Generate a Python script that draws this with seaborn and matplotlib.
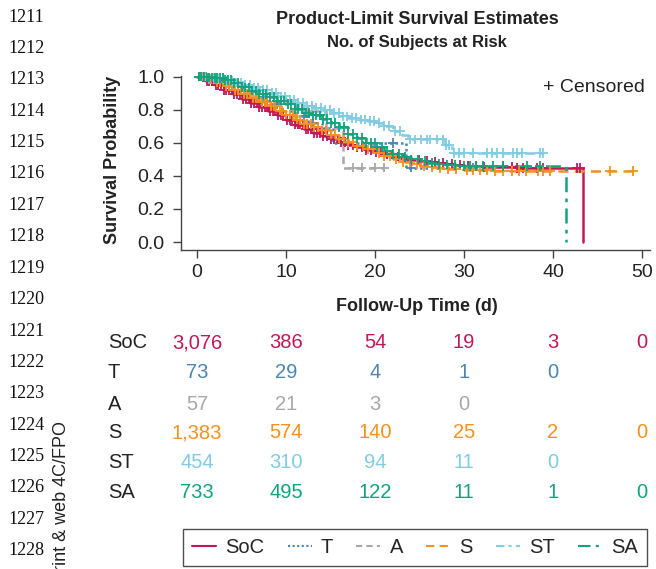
import numpy as np
import pandas as pd
import matplotlib
matplotlib.use("Agg")
import matplotlib.pyplot as plt
import matplotlib.transforms as mtransforms
from matplotlib.lines import Line2D
import seaborn as sns

# --- data ---
groups = ["SoC", "T", "A", "S", "ST", "SA"]
colors = {"SoC": "#C2185A", "T": "#4A86B3", "A": "#A8A8A8",
          "S": "#F7901E", "ST": "#80CCE2", "SA": "#12A37E"}
dash_map = {"SoC": "", "T": (1, 1.2), "A": (3, 2), "S": (4, 2.5),
            "ST": (4, 2, 1.5, 2), "SA": (6, 2.5, 1.5, 2.5)}

soc_t = [0, 1, 2, 3, 4, 5, 6, 7, 8, 9, 10, 11, 12, 13, 14, 15, 16, 17, 18, 19, 20,
         21, 22, 23, 24, 25, 26, 27, 28, 29, 30, 32, 36, 43.4]
soc_s = [1.0, 0.975, 0.948, 0.92, 0.893, 0.866, 0.84, 0.815, 0.79, 0.765, 0.738,
         0.71, 0.685, 0.66, 0.64, 0.62, 0.603, 0.588, 0.573, 0.558, 0.543, 0.53,
         0.517, 0.505, 0.497, 0.49, 0.483, 0.477, 0.472, 0.467, 0.462, 0.455, 0.447, 0.0]
soc_c = [0.2, 0.5, 0.8, 1.1, 1.4, 1.7, 2.1, 2.4, 2.7, 3.0, 3.3, 3.6, 3.9, 4.2, 4.5,
         4.8, 5.2, 5.5, 5.8, 6.1, 6.4, 6.7, 7.0, 7.3, 7.6, 7.9, 8.2, 8.5, 8.8, 9.1,
         9.4, 9.7, 10.1, 10.4, 10.7, 11.0, 11.3, 11.6, 11.9, 12.2, 12.5, 12.8, 13.2,
         13.5, 13.8, 14.2, 14.6, 15.0, 15.4, 15.8, 16.2, 16.6, 17.0, 17.5, 18.0,
         18.5, 19.0, 19.5, 20.1, 20.7, 21.3, 21.9, 22.6, 23.3, 24.1, 24.9, 25.8,
         26.7, 27.6, 28.6, 29.6, 30.5, 31.3, 32.2, 34.4, 35.4, 36.0, 36.6, 38.2,
         38.9, 42.7, 43.0]

t_t = [0, 2, 3.5, 5, 6.5, 8, 9.5, 11, 12.5, 14, 15.3, 23.5, 31]
t_s = [1.0, 0.97, 0.945, 0.915, 0.875, 0.835, 0.79, 0.76, 0.72, 0.69, 0.60, 0.45, 0.45]
t_c = [1.0, 4.2, 7.4, 9.0, 12.0, 13.0, 17.0, 20.0, 22.0, 24.0, 31.0]

a_t = [0, 1, 2.5, 3.5, 5, 6.5, 7.8, 11.3, 14.5, 16.4, 21]
a_s = [1.0, 0.982, 0.965, 0.947, 0.91, 0.875, 0.85, 0.795, 0.69, 0.45, 0.45]
a_c = [2.0, 4.0, 9.0, 10.0, 12.5, 17.5, 18.5, 20.0, 21.0]

s_t = [0, 1, 2, 3, 4, 5, 6, 7, 8, 9, 10, 11, 12, 13, 14, 15, 16, 17, 18, 19, 20,
       21, 22, 23, 24, 25, 26, 27, 28, 30, 33, 49.2]
s_s = [1.0, 0.985, 0.965, 0.945, 0.92, 0.895, 0.87, 0.845, 0.82, 0.795, 0.77,
       0.74, 0.715, 0.695, 0.675, 0.65, 0.625, 0.603, 0.58, 0.56, 0.54, 0.52, 0.50,
       0.485, 0.47, 0.46, 0.452, 0.447, 0.443, 0.437, 0.43, 0.43]
s_c = [0.3, 0.6, 0.9, 1.3, 1.6, 1.9, 2.3, 2.6, 2.9, 3.3, 3.6, 3.9, 4.3, 4.6, 4.9,
       5.3, 5.6, 5.9, 6.3, 6.6, 6.9, 7.3, 7.6, 7.9, 8.3, 8.6, 8.9, 9.3, 9.6, 10.0,
       10.4, 10.8, 11.2, 11.6, 12.0, 12.4, 12.8, 13.2, 13.6, 14.0, 14.5, 15.0,
       15.5, 16.0, 16.5, 17.0, 17.5, 18.0, 18.6, 19.2, 19.8, 20.4, 21.0, 21.7,
       22.4, 23.1, 23.9, 24.7, 25.5, 26.4, 27.3, 28.2, 29.1, 30.3, 31.0, 31.8,
       32.6, 33.5, 34.4, 35.4, 36.2, 37.0, 38.3, 38.9, 39.7, 46.4, 49.0]

st_t = [0, 1, 2, 3, 4, 5, 6, 7, 8, 9, 10, 11, 12, 13, 14, 15, 16, 17, 18, 19, 20,
        21, 22, 23, 23.7, 27.9, 28.7, 38.9]
st_s = [1.0, 0.993, 0.985, 0.975, 0.965, 0.95, 0.935, 0.92, 0.9, 0.88, 0.86, 0.84,
        0.825, 0.812, 0.8, 0.78, 0.76, 0.75, 0.74, 0.73, 0.72, 0.70, 0.67, 0.645,
        0.62, 0.585, 0.54, 0.54]
st_c = [0.4, 0.9, 1.4, 1.9, 2.4, 2.9, 3.4, 3.9, 4.4, 4.9, 5.4, 5.9, 6.4, 6.9, 7.4,
        7.9, 8.4, 8.9, 9.4, 9.9, 10.4, 10.9, 11.4, 11.9, 12.4, 12.9, 13.4, 13.9,
        14.4, 14.9, 15.4, 15.9, 16.4, 16.9, 17.4, 17.9, 18.4, 18.9, 19.4, 19.9,
        20.4, 21.0, 21.6, 22.2, 22.8, 23.9, 24.5, 25.2, 25.8, 26.2, 27.0, 27.6,
        28.0, 28.3, 28.9, 29.4, 30.0, 31.0, 32.6, 33.1, 33.7, 34.4, 35.5, 36.0,
        36.5, 38.5, 38.9]

sa_t = [0, 1, 2, 3, 4, 5, 6, 7, 8, 9, 10, 11, 12, 13, 14, 15, 16, 17, 18, 19, 20,
        21, 22, 23, 24, 25, 26, 27, 28, 29, 30, 41.5]
sa_s = [1.0, 0.995, 0.99, 0.98, 0.96, 0.935, 0.915, 0.895, 0.875, 0.855, 0.835,
        0.805, 0.78, 0.765, 0.745, 0.72, 0.695, 0.655, 0.63, 0.60, 0.575, 0.553,
        0.533, 0.515, 0.50, 0.49, 0.48, 0.473, 0.468, 0.464, 0.46, 0.0]
sa_c = [0.2, 0.5, 0.8, 1.1, 1.4, 1.7, 2.0, 2.3, 2.6, 2.9, 3.2, 3.5, 3.8, 4.2, 4.6,
        5.0, 5.4, 5.8, 6.2, 6.6, 7.0, 7.4, 7.8, 8.2, 8.6, 9.0, 9.4, 9.8, 10.2,
        10.6, 11.0, 11.4, 11.8, 12.2, 12.6, 13.0, 13.4, 13.8, 14.2, 14.6, 15.0,
        15.5, 16.0, 16.5, 17.0, 17.5, 18.0, 18.5, 19.0, 19.6, 20.2, 20.8, 21.4,
        22.0, 22.7, 23.4, 24.1, 24.8, 25.6, 26.4, 27.2, 28.1, 29.0, 30.0, 30.7,
        31.3, 32.1, 33.3, 34.4, 37.1, 38.5]

times = {"SoC": soc_t, "T": t_t, "A": a_t, "S": s_t, "ST": st_t, "SA": sa_t}
survs = {"SoC": soc_s, "T": t_s, "A": a_s, "S": s_s, "ST": st_s, "SA": sa_s}
censor = {"SoC": soc_c, "T": t_c, "A": a_c, "S": s_c, "ST": st_c, "SA": sa_c}

risk_days = [0, 10, 20, 30, 40, 50]
at_risk = {
    "SoC": ["3,076", "386", "54", "19", "3", "0"],
    "T": ["73", "29", "4", "1", "0", ""],
    "A": ["57", "21", "3", "0", "", ""],
    "S": ["1,383", "574", "140", "25", "2", "0"],
    "ST": ["454", "310", "94", "11", "0", ""],
    "SA": ["733", "495", "122", "11", "1", "0"],
}

# --- long tables for seaborn ---
curve_rows = []
cens_rows = []
for g in groups:
    t = np.array(times[g])
    s = np.array(survs[g])
    for ti, si in zip(t, s):
        curve_rows.append({"group": g, "time": ti, "surv": si})
    for c in censor[g]:
        idx = np.searchsorted(t, c, side="right") - 1
        cens_rows.append({"group": g, "time": c, "surv": s[idx]})
curves = pd.DataFrame(curve_rows)
cens = pd.DataFrame(cens_rows)

sns.set_style("ticks")
plt.rcParams["font.family"] = ["Liberation Sans", "DejaVu Sans"]

W, H = 656, 569
fig = plt.figure(figsize=(W / 100, H / 100), dpi=100)
ax = fig.add_axes([181 / W, 1 - 250 / H, 469 / W, 180 / H])

sns.lineplot(data=curves, x="time", y="surv", hue="group", style="group",
             palette=colors, dashes=dash_map, drawstyle="steps-post",
             estimator=None, sort=False, legend=False, linewidth=1.8, ax=ax)
sns.scatterplot(data=cens, x="time", y="surv", hue="group", palette=colors,
                marker="+", s=48, linewidth=1.3, legend=False, ax=ax, zorder=3)

ax.set_xlim(-1.8, 50.9)
ax.set_ylim(-0.048, 1.04)
ax.spines["left"].set_bounds(-0.048, 1.005)
sns.despine(ax=ax)
for sp in ["left", "bottom"]:
    ax.spines[sp].set_color("#444444")
    ax.spines[sp].set_linewidth(1.0)
ax.set_xticks(risk_days)
ax.set_yticks([0.0, 0.2, 0.4, 0.6, 0.8, 1.0])
ax.set_yticklabels(["0.0", "0.2", "0.4", "0.6", "0.8", "1.0"])
ax.tick_params(axis="both", labelsize=14, length=6, width=1.0, color="#444444",
               labelcolor="#222222")
ax.tick_params(axis="x", pad=4)
ax.tick_params(axis="y", pad=6)
ax.set_xlabel("Follow-Up Time (d)", fontsize=13, fontweight="bold", color="#222222")
ax.set_ylabel("Survival Probability", fontsize=13, fontweight="bold", color="#222222")
ax.xaxis.set_label_coords(0.503, -0.268)
ax.yaxis.set_label_coords(-0.128, 0.5)

fig.text(417 / W, 1 - 20 / H, "Product-Limit Survival Estimates", ha="center",
         va="center", fontsize=13, fontweight="bold", color="#222222")
fig.text(417 / W, 1 - 43 / H, "No. of Subjects at Risk", ha="center",
         va="center", fontsize=12, fontweight="bold", color="#222222")
fig.text(645 / W, 1 - 88 / H, "+ Censored", ha="right", va="center",
         fontsize=14, color="#222222")

# at-risk table below the axis
trans = mtransforms.blended_transform_factory(ax.transData, fig.transFigure)
row_y = [343, 373, 404, 433, 463, 492]
for g, yy in zip(groups, row_y):
    fig.text(108 / W, 1 - yy / H, g, ha="left", va="center", fontsize=14.5,
             color="#222222")
    for d, lab in zip(risk_days, at_risk[g]):
        ax.text(d, 1 - yy / H, lab, transform=trans, ha="center", va="center",
                fontsize=14.5, color=colors[g], clip_on=False)

# legend
handles = []
for g in groups:
    if dash_map[g] == "":
        handles.append(Line2D([], [], color=colors[g], lw=1.5, linestyle="-"))
    else:
        handles.append(Line2D([], [], color=colors[g], lw=1.5, dashes=dash_map[g]))
leg = fig.legend(handles, groups, loc="center", bbox_to_anchor=(415 / W, 1 - 547.5 / H),
                 ncol=6, frameon=True, fancybox=False, fontsize=14.5,
                 handlelength=1.2, handletextpad=0.45, columnspacing=1.15,
                 borderpad=0.45)
leg.get_frame().set_edgecolor("#222222")
leg.get_frame().set_linewidth(1.0)

# page line numbers and margin note
for i, num in enumerate(range(1211, 1229)):
    fig.text(8 / W, 1 - (17 + i * 31.4) / H, str(num), ha="left", va="center",
             fontsize=13, family=["Liberation Serif", "DejaVu Serif"], color="#111111")
fig.text(61 / W, 1 - 421 / H, "Print & web 4C/FPO", rotation=90, ha="center",
         va="top", fontsize=13, color="#222222")

fig.savefig("out.png", dpi=100)
